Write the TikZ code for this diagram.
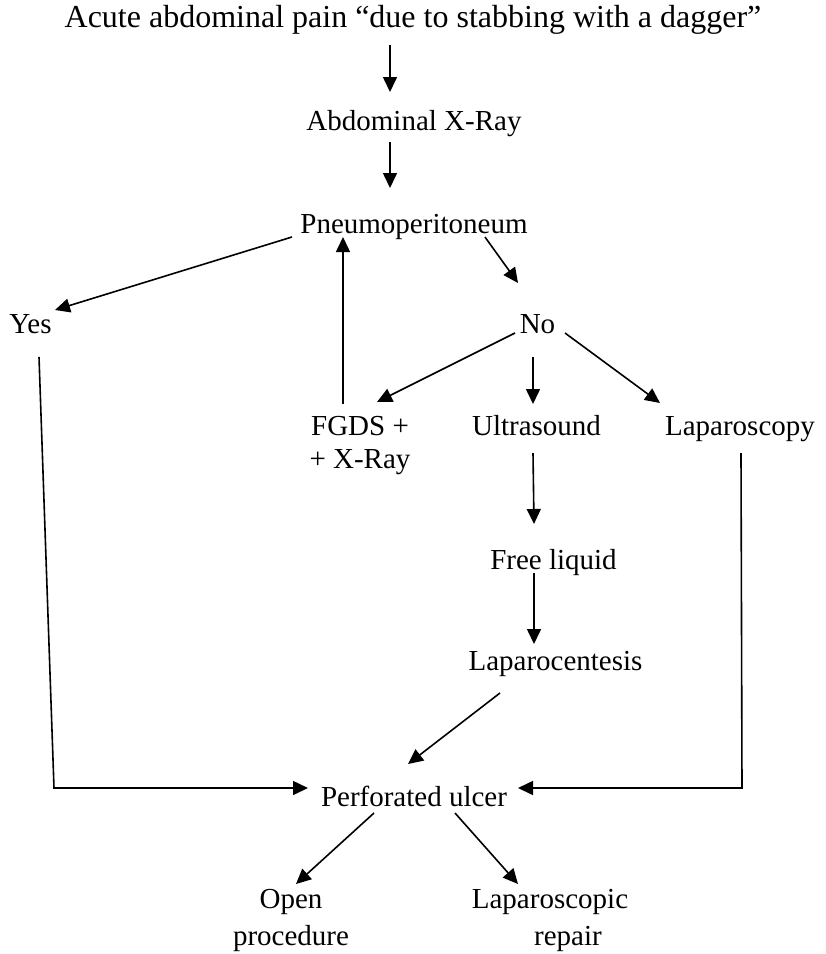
\documentclass[tikz,border=0pt]{standalone}
\usepackage{fontspec}
\setmainfont{Liberation Serif}
\usetikzlibrary{arrows.meta}

\tikzset{
  lbl/.style={inner sep=0pt, anchor=base, font=\fontsize{29}{35}\selectfont},
  lbl2/.style={lbl, align=center},
  head/.style={lbl, font=\fontsize{32}{38}\selectfont},
  arr/.style={line width=1.6pt, -{Triangle[length=15pt,width=14pt]}}
}

\begin{document}
\begin{tikzpicture}[x=1pt,y=-1pt]
  \useasboundingbox (0,0) rectangle (826,954);

  % labels, placed by their (last) baselines
  \node[head] (title) at (413,27) {Acute abdominal pain “due to stabbing with a dagger”};
  \node[lbl] (abd)   at (414,130) {Abdominal X-Ray};
  \node[lbl] (pneu)  at (414,233) {Pneumoperitoneum};
  \node[lbl] (yes)   at (30.5,333) {Yes};
  \node[lbl] (no)    at (537.5,333) {No};
  \node[lbl2] (fgds) at (360,468) {FGDS +\\[-2pt]+ X-Ray};
  \node[lbl] (us)    at (536.5,435) {Ultrasound};
  \node[lbl] (lap)   at (740,435) {Laparoscopy};
  \node[lbl] (free)  at (553.5,569) {Free liquid};
  \node[lbl] (lcent) at (555.5,670) {Laparocentesis};
  \node[lbl] (perf)  at (414,806) {Perforated ulcer};
  \node[lbl2] (open) at (291,945) {Open\\[2pt]procedure};
  \node[lbl2] (lrep) at (550,945) {Laparoscopic\\[2pt]\hspace*{36pt}repair};

  % connectors
  \draw[arr] ([shift={(-23,18)}]title.base) -- ([shift={(-24,-38)}]abd.base);
  \draw[arr] ([shift={(-24,12)}]abd.base) -- ([shift={(-24,-45)}]pneu.base);
  \draw[arr] ([shift={(-122,4)}]pneu.base) -- ([shift={(24.5,-23)}]yes.base);
  \draw[arr] ([shift={(71,4)}]pneu.base) -- ([shift={(-19.5,-50)}]no.base);
  \draw[arr] ([shift={(-17,-64)}]fgds.base) -- ([shift={(-71,4)}]pneu.base);
  \draw[arr] ([shift={(-22.5,0)}]no.base) -- ([shift={(17,-66)}]fgds.base);
  \draw[arr] ([shift={(-4.5,24)}]no.base) -- ([shift={(-3.5,-31)}]us.base);
  \draw[arr] ([shift={(27.5,0)}]no.base) -- ([shift={(-80,-32)}]lap.base);
  \draw[arr] ([shift={(-3.5,18)}]us.base) -- ([shift={(-19.5,-45)}]free.base);
  \draw[arr] ([shift={(-19.5,4)}]free.base) -- ([shift={(-21.5,-26)}]lcent.base);
  \draw[arr] ([shift={(-55.5,23)}]lcent.base) -- ([shift={(-6,-42)}]perf.base);
  \draw[arr] ([shift={(8.5,24)}]yes.base) -- ([shift={(-360,-18)}]perf.base) -- ([shift={(-106,-18)}]perf.base);
  \draw[arr] ([shift={(1,18)}]lap.base) -- ([shift={(328,-18)}]perf.base) -- ([shift={(104,-18)}]perf.base);
  \draw[arr] ([shift={(-40,7)}]perf.base) -- ([shift={(5,-61)}]open.base);
  \draw[arr] ([shift={(41,7)}]perf.base) -- ([shift={(-32,-61)}]lrep.base);
\end{tikzpicture}
\end{document}
